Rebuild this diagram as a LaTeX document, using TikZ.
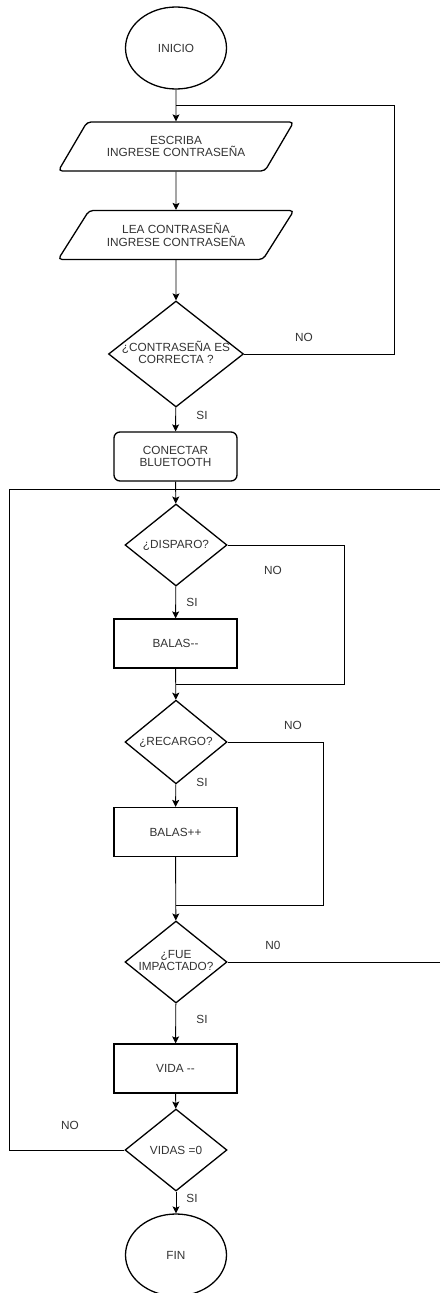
\documentclass[tikz,border=0pt]{standalone}
\usepackage{fontspec}
\setmainfont{Liberation Sans}
\usetikzlibrary{shapes.geometric,arrows.meta}

\newcommand{\partido}[1]{\makebox[0pt]{\begin{tabular}{@{}c@{}}#1\end{tabular}}}

\begin{document}
\begin{tikzpicture}[
    x = 1pt, y = -1pt,
    every node/.style = {font = \fontsize{11.8}{12.5}\selectfont, text = black!80},
    forma/.style = {draw = black, line width = 1.3pt, inner sep = 0pt, align = center},
    terminal/.style = {forma, ellipse, minimum width = 101pt, minimum height = 82pt},
    datos/.style = {forma, trapezium, trapezium left angle = 43,
        trapezium right angle = 137, trapezium stretches = true,
        minimum width = 236pt, minimum height = 49pt, rounded corners = 4pt},
    proceso/.style = {forma, rectangle, minimum width = 123pt, minimum height = 49pt},
    decision/.style = {forma, diamond, minimum width = 102pt, minimum height = 82pt},
    linea/.style = {draw = black, line width = 0.9pt},
    flecha/.style = {linea, -{Stealth[length = 7pt, width = 7pt, inset = 1.5pt]}},
    etiq/.style = {inner sep = 0pt}]

\useasboundingbox (0,0) rectangle (440,1293);

% bloques
\node[terminal] (inicio) at (176,48) {INICIO};
\node[datos] (escriba) at (176,146.5) {ESCRIBA\\INGRESE CONTRASEÑA};
\node[datos] (lea) at (176,235) {LEA CONTRASEÑA\\INGRESE CONTRASEÑA};
\node[decision, minimum width = 135pt, minimum height = 106pt] (clave) at (176,354)
    {\partido{¿CONTRASEÑA ES\\CORRECTA ?}};
\node[proceso, rounded corners = 6pt] (conectar) at (175.5,456.5) {CONECTAR\\BLUETOOTH};
\node[decision] (disparo) at (176,545) {¿DISPARO?};
\node[proceso] (restar) at (175.5,643.5) {BALAS-{}-};
\node[decision] (recargo) at (176,742) {¿RECARGO?};
\node[proceso] (sumar) at (175.5,832) {BALAS++};
\node[decision] (impacto) at (176,962) {\partido{¿FUE\\IMPACTADO?}};
\node[proceso] (vida) at (175.5,1068.5) {VIDA -{}-};
\node[decision] (vidas) at (176,1150) {VIDAS =0};
\node[terminal] (fin) at (176,1255) {FIN};

% puntos de union
\coordinate (j1) at (176,105);
\coordinate (r1) at (394,105);
\coordinate (j2) at (176,684);
\coordinate (r2) at (344,684);
\coordinate (j3) at (176,905);
\coordinate (r3) at (323,905);
\coordinate (r4) at (440,962);
\coordinate (l5) at (9,489);
\coordinate (r5) at (440,489);

% flujo principal
\draw[flecha] (inicio) -- (escriba);
\draw[flecha] (escriba) -- (lea);
\draw[flecha] (lea) -- (clave);
\draw[flecha] (clave) -- (conectar);
\draw[flecha] (conectar) -- (disparo);
\draw[flecha] (disparo) -- (restar);
\draw[flecha] (restar) -- (recargo);
\draw[flecha] (recargo) -- (sumar);
\draw[flecha] (sumar) -- (impacto);
\draw[flecha] (impacto) -- (vida);
\draw[flecha] (vida) -- (vidas);
\draw[flecha] (vidas) -- (fin);

% retornos
\draw[linea] (clave.east) -| (r1) -- (j1);
\draw[linea] (disparo.east) -| (r2) -- (j2);
\draw[linea] (recargo.east) -| (r3) -- (j3);
\draw[linea] (impacto.east) -- (r4);
\draw[linea] (vidas.west) -| (l5) -- (r5);

% etiquetas
\node[etiq] (e1) at (304,337) {NO};
\node[etiq] (e2) at (202,415) {SI};
\node[etiq] (e3) at (273,570) {NO};
\node[etiq] (e4) at (192,602) {SI};
\node[etiq] (e5) at (293,725) {NO};
\node[etiq] (e6) at (202,782) {SI};
\node[etiq] (e7) at (273,945) {N0};
\node[etiq] (e8) at (202,1019) {SI};
\node[etiq] (e9) at (70,1125) {NO};
\node[etiq] (e10) at (192,1198) {SI};
\end{tikzpicture}
\end{document}
